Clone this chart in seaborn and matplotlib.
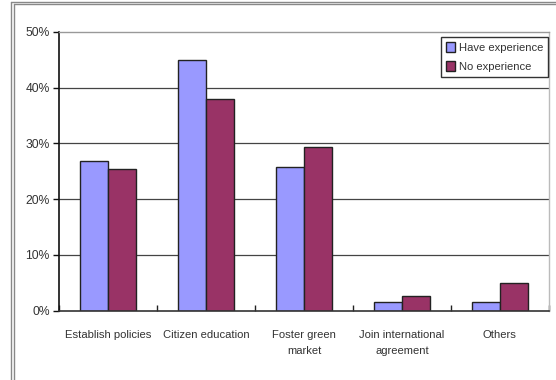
#!/usr/bin/env python3

import matplotlib
matplotlib.use("Agg")
import matplotlib.pyplot as plt
from matplotlib.lines import Line2D
from matplotlib.ticker import FuncFormatter
import numpy as np
import pandas as pd
import seaborn as sns

# Data (percent)
CATEGORIES = ["Establish policies", "Citizen education", "Foster green\nmarket",
              "Join international\nagreement", "Others"]
HAVE_EXPERIENCE = [26.8, 44.9, 25.7, 1.5, 1.5]
NO_EXPERIENCE = [25.4, 38.0, 29.4, 2.7, 4.9]
SERIES = ["Have experience", "No experience"]
YTICKS = [0, 10, 20, 30, 40, 50]

COLORS = {"Have experience": "#9999FF", "No experience": "#993366"}
TEXT = "#333333"
FS = 8.1

sns.set_style("white")
plt.rcParams['font.family'] = ['Liberation Sans', 'DejaVu Sans']

df = pd.DataFrame({
    "category": CATEGORIES * 2,
    "series": [SERIES[0]] * len(CATEGORIES) + [SERIES[1]] * len(CATEGORIES),
    "value": HAVE_EXPERIENCE + NO_EXPERIENCE,
})

fig = plt.figure(figsize=(5.56, 3.80), dpi=100)
ax = fig.add_axes([0.1067, 0.1824, 0.8803, 0.7334])

sns.barplot(data=df, x="category", y="value", hue="series", palette=COLORS,
            width=0.57, gap=0, edgecolor="#222222", linewidth=1.0,
            saturation=1, ax=ax, zorder=3)

ax.set_ylim(0, 50)
ax.set_xlim(-0.5, len(CATEGORIES) - 0.5)
ax.set_yticks(YTICKS)
ax.yaxis.set_major_formatter(FuncFormatter(lambda v, p: f"{v:.0f}%"))
ax.set_xlabel("")
ax.set_ylabel("")

# gridlines
for v in YTICKS[1:-1]:
    ax.axhline(v, color="#444444", linewidth=0.9, zorder=1)

# spines
ax.spines["left"].set_color("#111111")
ax.spines["left"].set_linewidth(1.2)
ax.spines["bottom"].set_color("#333333")
ax.spines["bottom"].set_linewidth(1.2)
ax.spines["top"].set_color("#999999")
ax.spines["top"].set_linewidth(1.0)
ax.spines["right"].set_color("#bbbbbb")
ax.spines["right"].set_linewidth(1.0)
for s in ax.spines.values():
    s.set_visible(True)
    s.set_zorder(4)

ax.tick_params(axis="y", which="major", direction="out", length=4, width=1,
               color="#111111", labelsize=FS + 0.6, labelcolor=TEXT, pad=3, left=True)
ax.tick_params(axis="x", which="major", length=0, labelsize=FS,
               labelcolor=TEXT, pad=14)
for lbl in ax.get_xticklabels():
    lbl.set_linespacing(1.75)
ax.set_xticks(np.arange(-0.5, len(CATEGORIES)), minor=True)
ax.tick_params(axis="x", which="minor", direction="in", length=4, width=1,
               color="#222222", bottom=True)

leg = ax.legend(loc="upper right", bbox_to_anchor=(0.9985, 0.982), frameon=True,
                fancybox=False, fontsize=FS, handlelength=0.8, handleheight=1.0,
                handletextpad=0.3, borderpad=0.45, labelspacing=0.75,
                borderaxespad=0)
leg.get_frame().set_edgecolor("#000000")
leg.get_frame().set_linewidth(1.0)
for t in leg.get_texts():
    t.set_color(TEXT)
leg.set_zorder(5)

# outer double frame of the original figure
W, H = 556.0, 380.0
for x in (11.0, 13.5):
    fig.add_artist(Line2D([x / W, x / W], [0, 1 - (1.5 if x == 11.0 else 4.0) / H],
                          transform=fig.transFigure, color="#888888", linewidth=1.0))
for y in (1.5, 4.0):
    fig.add_artist(Line2D([(11.0 if y == 1.5 else 13.5) / W, 1], [1 - y / H, 1 - y / H],
                          transform=fig.transFigure, color="#888888", linewidth=1.0))

fig.savefig("out.png", dpi=100)
